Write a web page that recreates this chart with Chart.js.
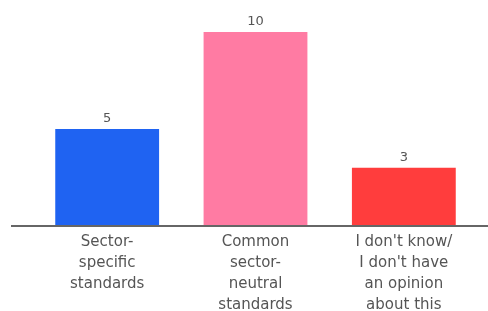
<!DOCTYPE html>
<html>
<head>
<meta charset="utf-8">
<script src="https://cdn.jsdelivr.net/npm/chart.js@4"></script>
<style>
    html, body { margin: 0; padding: 0; background: #fff; }
    #wrap { width: 488px; height: 311px; position: relative; }
</style>
</head>
<body>
<div id="wrap"><canvas id="opinionChart"></canvas></div>
<script>
const categories = [
    ['Sector-', 'specific', 'standards'],
    ['Common', 'sector-', 'neutral', 'standards'],
    ["I don't know/", "I don't have", 'an opinion', 'about this']
];
const responses = [5, 10, 3];
const barColors = ['#1f63f2', '#ff7ba3', '#ff3d3d'];

// value labels above each bar
const valueLabels = {
    id: 'valueLabels',
    afterDatasetsDraw(chart) {
        const ctx = chart.ctx;
        const meta = chart.getDatasetMeta(0);
        ctx.save();
        ctx.fillStyle = '#555';
        ctx.font = '13px "DejaVu Sans"';
        ctx.textAlign = 'center';
        ctx.textBaseline = 'bottom';
        meta.data.forEach((bar, i) => {
            ctx.fillText(responses[i], bar.x, bar.y - 4);
        });
        ctx.restore();
    }
};

// baseline runs wider than the category area
const baseLine = {
    id: 'baseLine',
    afterDatasetsDraw(chart) {
        const ctx = chart.ctx;
        const y = chart.scales.y.getPixelForValue(0);
        ctx.save();
        ctx.strokeStyle = '#666';
        ctx.lineWidth = 2;
        ctx.beginPath();
        ctx.moveTo(11, y);
        ctx.lineTo(chart.width, y);
        ctx.stroke();
        ctx.restore();
    }
};

const ctx = document.getElementById('opinionChart').getContext('2d');
new Chart(ctx, {
    type: 'bar',
    data: {
        labels: categories,
        datasets: [{
            data: responses,
            backgroundColor: barColors,
            borderWidth: 0,
            barPercentage: 0.7,
            categoryPercentage: 1
        }]
    },
    options: {
        responsive: true,
        maintainAspectRatio: false,
        animation: false,
        layout: {
            padding: { top: 32, left: 33, right: 10, bottom: 0 }
        },
        scales: {
            x: {
                grid: { display: false },
                border: { display: false },
                afterFit(scale) { scale.height = 85; },
                ticks: {
                    color: '#555',
                    font: { family: 'DejaVu Sans', size: 15, lineHeight: 1.4 },
                    maxRotation: 0,
                    autoSkip: false,
                    padding: -2
                }
            },
            y: {
                display: false,
                min: 0,
                max: 10
            }
        },
        plugins: {
            legend: { display: false },
            tooltip: { enabled: false }
        }
    },
    plugins: [valueLabels, baseLine]
});
</script>
</body>
</html>
